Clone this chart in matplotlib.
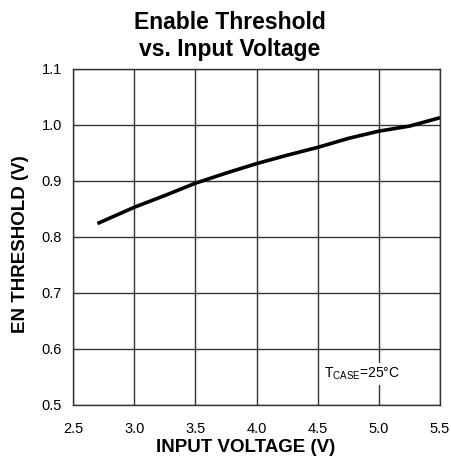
import matplotlib
matplotlib.use('Agg')
import matplotlib.pyplot as plt

plt.rcParams['font.family'] = ['Liberation Sans', 'DejaVu Sans']
plt.rcParams['mathtext.fontset'] = 'custom'
plt.rcParams['mathtext.rm'] = 'Liberation Sans'

# data
vin = [2.7, 3.0, 3.25, 3.5, 3.75, 4.0, 4.25, 4.5, 4.75, 5.0, 5.25, 5.5]
en_thr = [0.824, 0.853, 0.874, 0.896, 0.914, 0.931, 0.946, 0.960, 0.976, 0.989, 0.998, 1.013]
xticks = [2.5, 3.0, 3.5, 4.0, 4.5, 5.0, 5.5]
yticks = [0.5, 0.6, 0.7, 0.8, 0.9, 1.0, 1.1]

fig = plt.figure(figsize=(4.52, 4.63), dpi=100)
ax = fig.add_axes([0.1615, 0.1253, 0.812, 0.7257])

ax.plot(vin, en_thr, color='black', lw=2.6, solid_capstyle='butt')

ax.set_xlim(2.5, 5.5)
ax.set_ylim(0.5, 1.1)
ax.set_xticks(xticks)
ax.set_yticks(yticks)
ax.set_xticklabels(['%.1f' % t for t in xticks])
ax.set_yticklabels(['%.1f' % t for t in yticks])
ax.tick_params(length=0, labelsize=10.5)
ax.tick_params(axis='x', pad=12)
ax.tick_params(axis='y', pad=8)
ax.grid(True, color='#333333', lw=1.0)
ax.set_axisbelow(True)
for s in ax.spines.values():
    s.set_color('#333333')
    s.set_linewidth(1.0)

ax.set_xlabel('INPUT VOLTAGE (V)', fontsize=13.5, fontweight='bold')
ax.set_ylabel('EN THRESHOLD (V)', fontsize=13.5, fontweight='bold')
ax.xaxis.set_label_coords(0.471, -0.102)
ax.yaxis.set_label_coords(-0.12, 0.478)

fig.text(0.509, 0.976, 'Enable Threshold\nvs. Input Voltage', fontsize=16.5,
         fontweight='bold', ha='center', va='top', linespacing=1.2)

ax.text(4.86, 0.555, r'T$_{\mathrm{CASE}}$=25°C', fontsize=10, ha='center', va='center',
        bbox=dict(facecolor='white', edgecolor='none', pad=2))

fig.savefig('out.png', dpi=100)
